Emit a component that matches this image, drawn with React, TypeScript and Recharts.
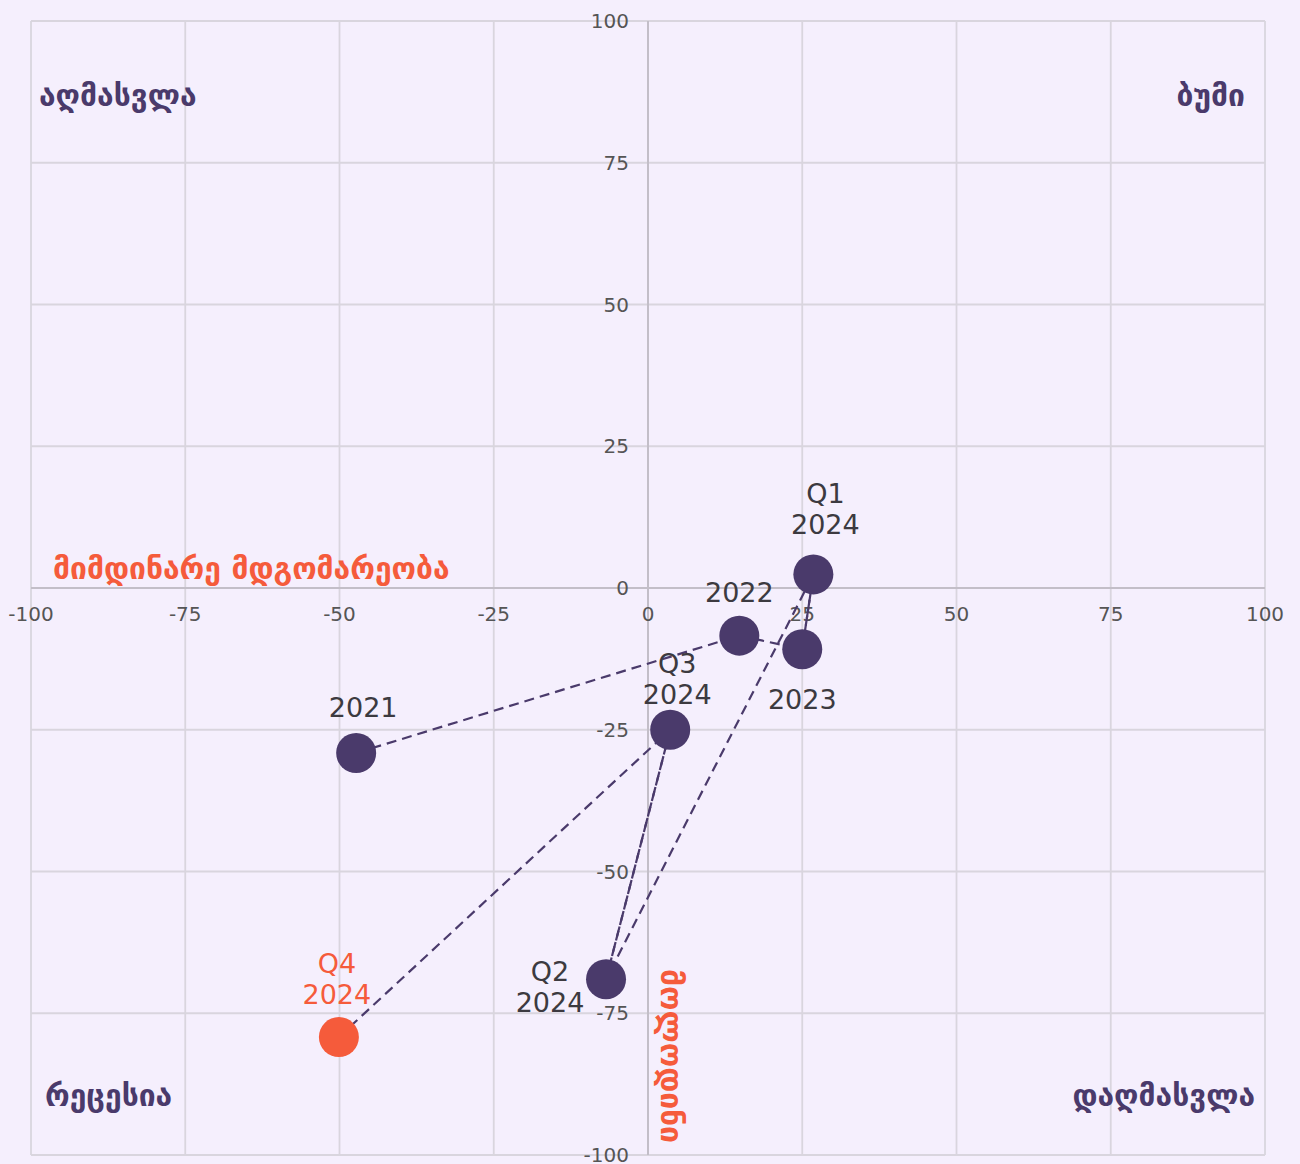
import React from 'react';
import {
  ScatterChart,
  Scatter,
  XAxis,
  YAxis,
  CartesianGrid,
  ReferenceLine,
  ReferenceDot,
} from 'recharts';

// ---------- data ----------
const CATEGORIES = ['2021', '2022', '2023', 'Q1 2024', 'Q2 2024', 'Q3 2024', 'Q4 2024'];
const X_VALUES = [-47.3, 14.8, 25.0, 26.8, -6.8, 3.6, -50.1];
const Y_VALUES = [-29.1, -8.4, -10.8, 2.4, -69.0, -25.0, -79.2];
const CURRENT_POINT = 'Q4 2024';
const X_TICKS = [-100, -75, -50, -25, 0, 25, 50, 75, 100];
const Y_TICKS = [-100, -75, -50, -25, 0, 25, 50, 75, 100];
const QUADRANT_LABELS = ['აღმასვლა', 'ბუმი', 'რეცესია', 'დაღმასვლა'];
const X_TITLE = 'მიმდინარე მდგომარეობა';
const Y_TITLE = 'მოლოდინი';
// segments that are traced twice in the original trail
const DOUBLED_SEGMENTS = [
  ['2023', 'Q1 2024'],
  ['Q2 2024', 'Q3 2024'],
];

// ---------- layout / style ----------
const W = 1300;
const H = 1164;
const MARGIN = { top: 21, right: 35, bottom: 9, left: 31 };

const BG = '#f5effd';
const PURPLE = '#4a3a6b';
const ORANGE = '#f55b3b';
const GRID = '#d9d5de';
const AXIS = '#c3bec8';
const TICK = '#555555';
const LABEL = '#3c3a40';
const FONT = '"DejaVu Sans", sans-serif';
const R = 20;
const DASH = '10 6';
const TICK_FS = 20;

// label offsets (text centre relative to marker centre)
const LABEL_PLACEMENT: Record<string, { dx: number; dys: number[] }> = {
  '2021': { dx: 7, dys: [-45] },
  '2022': { dx: 0, dys: [-43] },
  '2023': { dx: 0, dys: [50] },
  'Q1 2024': { dx: 12, dys: [-81, -50] },
  'Q2 2024': { dx: -56, dys: [-8, 23] },
  'Q3 2024': { dx: 7, dys: [-66, -35] },
  'Q4 2024': { dx: -2, dys: [-74, -43] },
};

const points = CATEGORIES.map((name, i) => ({ name, x: X_VALUES[i], y: Y_VALUES[i] }));
const byName = (n: string) => points.find((p) => p.name === n)!;

const XTickText = (props: any) => {
  const { viewBox, value } = props;
  return (
    <text x={viewBox.x} y={viewBox.y + 26} textAnchor="middle" dominantBaseline="central" fontSize={TICK_FS} fill={TICK} fontFamily={FONT}>
      {value}
    </text>
  );
};

const YTickText = (props: any) => {
  const { viewBox, value } = props;
  return (
    <text x={viewBox.x - 19} y={viewBox.y} textAnchor="end" dominantBaseline="central" fontSize={TICK_FS} fill={TICK} fontFamily={FONT}>
      {value}
    </text>
  );
};

const PointShape = (props: any) => {
  const { cx, cy, payload } = props;
  const name: string = payload.name;
  const isCurrent = name === CURRENT_POINT;
  const place = LABEL_PLACEMENT[name] || { dx: 0, dys: [-44] };
  const lines = name.split(' ');
  return (
    <g>
      <circle cx={cx} cy={cy} r={R} fill={isCurrent ? ORANGE : PURPLE} />
      {lines.map((t, i) => (
        <text
          key={i}
          x={cx + place.dx}
          y={cy + place.dys[i]}
          textAnchor="middle"
          dominantBaseline="central"
          fontSize={27}
          fill={isCurrent ? ORANGE : LABEL}
          fontFamily={FONT}
        >
          {t}
        </text>
      ))}
    </g>
  );
};

const QuadLabel = (props: any) => {
  const { viewBox, text, anchor, dx, dy } = props;
  const x = (viewBox?.x ?? 0) + dx;
  const y = (viewBox?.y ?? 0) + dy;
  return (
    <text x={x} y={y} textAnchor={anchor} fontSize={30} fontWeight="bold" fill={PURPLE} fontFamily={FONT}>
      {text}
    </text>
  );
};

const XTitle = (props: any) => {
  const { viewBox } = props;
  return (
    <text x={viewBox.x + 22} y={viewBox.y - 9} textAnchor="start" fontSize={30} fontWeight="bold" fill={ORANGE} fontFamily={FONT}>
      {X_TITLE}
    </text>
  );
};

const YTitle = (props: any) => {
  const { viewBox } = props;
  const x = viewBox.x + 13;
  const y = viewBox.y + viewBox.height - 99;
  return (
    <text
      transform={`translate(${x},${y}) rotate(90)`}
      x={0}
      y={0}
      textAnchor="middle"
      fontSize={30}
      fontWeight="bold"
      fill={ORANGE}
      fontFamily={FONT}
    >
      {Y_TITLE}
    </text>
  );
};

const Empty = () => <g />;

export default function App() {
  return (
    <div style={{ position: 'absolute', left: 0, top: 0, width: W, height: H, background: BG }}>
      <ScatterChart width={W} height={H} margin={MARGIN}>
        <CartesianGrid stroke={GRID} strokeWidth={1.8} />
        <XAxis
          type="number"
          dataKey="x"
          domain={[-100, 100]}
          ticks={X_TICKS}
          interval={0}
          axisLine={false}
          tickLine={false}
          height={0}
          tick={<Empty />}
        />
        <YAxis
          type="number"
          dataKey="y"
          domain={[-100, 100]}
          ticks={Y_TICKS}
          interval={0}
          axisLine={false}
          tickLine={false}
          width={0}
          tick={<Empty />}
        />
        <ReferenceLine x={0} stroke={AXIS} strokeWidth={2} label={<YTitle />} />
        <ReferenceLine y={0} stroke={AXIS} strokeWidth={2} label={<XTitle />} />
        {X_TICKS.map((t) => (
          <ReferenceDot key={`xt${t}`} x={t} y={0} r={0} stroke="none" fill="none" label={<XTickText value={t} />} />
        ))}
        {Y_TICKS.map((t) => (
          <ReferenceDot key={`yt${t}`} x={0} y={t} r={0} stroke="none" fill="none" label={<YTickText value={t} />} />
        ))}
        <ReferenceDot x={-100} y={100} r={0} stroke="none" fill="none"
          label={<QuadLabel text={QUADRANT_LABELS[0]} anchor="start" dx={8} dy={85} />} />
        <ReferenceDot x={100} y={100} r={0} stroke="none" fill="none"
          label={<QuadLabel text={QUADRANT_LABELS[1]} anchor="end" dx={-20} dy={85} />} />
        <ReferenceDot x={-100} y={-100} r={0} stroke="none" fill="none"
          label={<QuadLabel text={QUADRANT_LABELS[2]} anchor="start" dx={14} dy={-49} />} />
        <ReferenceDot x={100} y={-100} r={0} stroke="none" fill="none"
          label={<QuadLabel text={QUADRANT_LABELS[3]} anchor="end" dx={-10} dy={-49} />} />
        <Scatter
          data={points}
          line={{ stroke: PURPLE, strokeWidth: 2.2, strokeDasharray: DASH }}
          lineType="joint"
          shape={<Empty />}
          isAnimationActive={false}
        />
        {DOUBLED_SEGMENTS.map((seg, i) => (
          <Scatter
            key={i}
            data={seg.map(byName)}
            line={{ stroke: PURPLE, strokeWidth: 2.2, strokeDasharray: DASH, strokeDashoffset: 8 }}
            lineType="joint"
            shape={<Empty />}
            isAnimationActive={false}
          />
        ))}
        <Scatter data={points} shape={<PointShape />} isAnimationActive={false} />
      </ScatterChart>
    </div>
  );
}
